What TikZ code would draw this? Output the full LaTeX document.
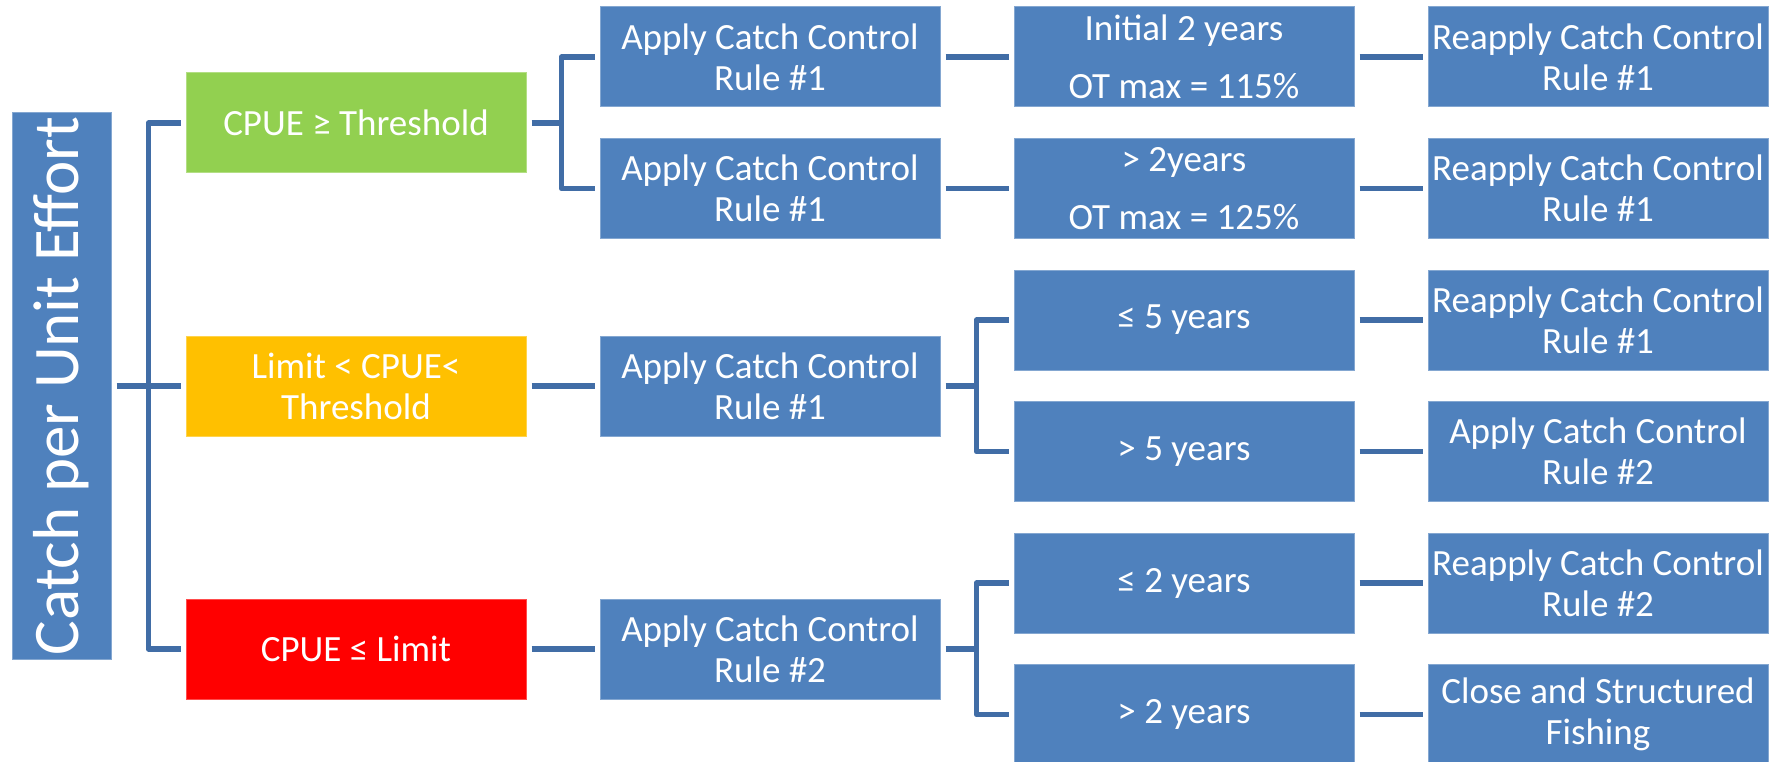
\documentclass[tikz,border=0pt]{standalone}
\usepackage{fontspec}
\usepackage{graphicx}
\setmainfont{Carlito}
\definecolor{boxblue}{HTML}{4F81BD}
\definecolor{cgreen}{HTML}{92D050}
\definecolor{corange}{HTML}{FFC000}
\definecolor{cred}{HTML}{FF0000}
\definecolor{conncol}{HTML}{416DA6}
\tikzset{
  bx/.style={fill=#1, draw=#1!70!white, line width=1pt, minimum width=340pt,
    minimum height=100pt, inner sep=0pt, text=white, align=center,
    font=\fontsize{37}{41}\selectfont},
  bx/.default=boxblue,
  conn/.style={draw=conncol, line width=5.5pt, line join=round},
}
\begin{document}
\begin{tikzpicture}[x=1pt,y=-1pt]
\useasboundingbox (0,0) rectangle (1788,762);
% root
\node[bx, minimum width=99pt, minimum height=547pt, font=\fontsize{65}{70}\selectfont]
  (root) at (61.5,386) {\rotatebox{90}{Catch per Unit Effort}};
% level 1
\node[bx=cgreen]  (g) at (356,123) {CPUE ≥ Threshold};
\node[bx=corange] (o) at (356,386) {Limit < CPUE<\\Threshold};
\node[bx=cred]    (r) at (356,649) {CPUE ≤ Limit};
% level 2
\node[bx] (a1) at (770,57)    {Apply Catch Control\\Rule \#1};
\node[bx] (a2) at (770,188.5) {Apply Catch Control\\Rule \#1};
\node[bx] (a3) at (770,386)   {Apply Catch Control\\Rule \#1};
\node[bx] (a4) at (770,649)   {Apply Catch Control\\Rule \#2};
% level 3
\node[bx] (b1) at (1184,57)    {Initial 2 years\\[17pt]OT max = 115\%};
\node[bx] (b2) at (1184,188.5) {> 2years\\[17pt]OT max = 125\%};
\node[bx] (b3) at (1184,320)   {≤ 5 years};
\node[bx] (b4) at (1184,451.5) {> 5 years};
\node[bx] (b5) at (1184,583)   {≤ 2 years};
\node[bx] (b6) at (1184,714.5) {> 2 years};
% level 4
\node[bx] (c1) at (1598,57)    {Reapply Catch Control\\Rule \#1};
\node[bx] (c2) at (1598,188.5) {Reapply Catch Control\\Rule \#1};
\node[bx] (c3) at (1598,320)   {Reapply Catch Control\\Rule \#1};
\node[bx] (c4) at (1598,451.5) {Apply Catch Control\\Rule \#2};
\node[bx] (c5) at (1598,583)   {Reapply Catch Control\\Rule \#2};
\node[bx] (c6) at (1598,714.5) {Close and Structured\\Fishing};
% connectors root -> level 1
\draw[conn] ([xshift=-5pt]g.west) -- ++(-32,0) |- ([xshift=-5pt]r.west);
\draw[conn] ([xshift=5pt]root.east) -- ([xshift=-5pt]o.west);
% level 1 -> level 2
\draw[conn] ([xshift=-5pt]a1.west) -- ++(-33,0) |- ([xshift=-5pt]a2.west);
\draw[conn] ([xshift=5pt]g.east) -- ([xshift=36pt]g.east);
\draw[conn] ([xshift=5pt]o.east) -- ([xshift=-5pt]a3.west);
\draw[conn] ([xshift=5pt]r.east) -- ([xshift=-5pt]a4.west);
% level 2 -> level 3
\draw[conn] ([xshift=5pt]a1.east) -- ([xshift=-5pt]b1.west);
\draw[conn] ([xshift=5pt]a2.east) -- ([xshift=-5pt]b2.west);
\draw[conn] ([xshift=-5pt]b3.west) -- ++(-32,0) |- ([xshift=-5pt]b4.west);
\draw[conn] ([xshift=5pt]a3.east) -- ([xshift=37pt]a3.east);
\draw[conn] ([xshift=-5pt]b5.west) -- ++(-32,0) |- ([xshift=-5pt]b6.west);
\draw[conn] ([xshift=5pt]a4.east) -- ([xshift=37pt]a4.east);
% level 3 -> level 4
\draw[conn] ([xshift=5pt]b1.east) -- ([xshift=-5pt]c1.west);
\draw[conn] ([xshift=5pt]b2.east) -- ([xshift=-5pt]c2.west);
\draw[conn] ([xshift=5pt]b3.east) -- ([xshift=-5pt]c3.west);
\draw[conn] ([xshift=5pt]b4.east) -- ([xshift=-5pt]c4.west);
\draw[conn] ([xshift=5pt]b5.east) -- ([xshift=-5pt]c5.west);
\draw[conn] ([xshift=5pt]b6.east) -- ([xshift=-5pt]c6.west);
\end{tikzpicture}
\end{document}
